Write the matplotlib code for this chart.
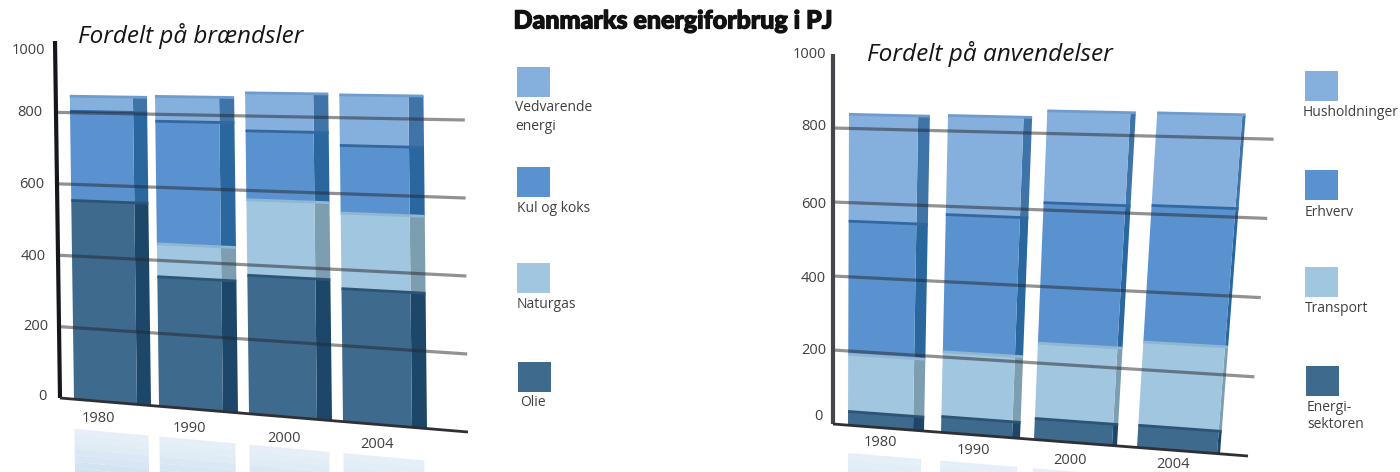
import matplotlib
matplotlib.use("Agg")
import matplotlib.pyplot as plt
import matplotlib.patheffects as pe
import numpy as np
from matplotlib.transforms import Transform
from matplotlib.patches import Rectangle

# ---------- data ----------
years = ["1980", "1990", "2000", "2004"]
ticks = [0, 200, 400, 600, 800, 1000]

fuel_names = ["Olie", "Naturgas", "Kul og koks", "Vedvarende\nenergi"]
olie = [555, 355, 372, 350]
naturgas = [0, 90, 203, 199]
kul = [249, 336, 185, 178]
vedvarende = [42, 68, 102, 133]

use_names = ["Energi-\nsektoren", "Transport", "Erhverv", "Husholdninger"]
energi = [37, 42, 55, 57]
transport = [154, 172, 197, 214]
erhverv = [359, 364, 367, 351]
husholdninger = [288, 263, 240, 238]

# ---------- styles and layout ----------
FACE = ["#3e6a8e", "#a0c6e0", "#5a92cf", "#85b0de"]
SIDE = ["#1c4769", "#7d9eb0", "#2a679f", "#3f74a8"]
EDGE = ["#2c5474", "#8fb6d2", "#33689f", "#6f9ccd"]
FONT = "Open Sans"
TXT = "#404040"


class Bilinear(Transform):
    """Maps (baseline position, value) onto the tilted chart plane."""
    input_dims = output_dims = 2
    is_separable = False

    def __init__(self, bl, br, tl, tr):
        super().__init__()
        self.c = [np.array(p, float) for p in (bl, br, tl, tr)]

    def transform_non_affine(self, values):
        values = np.asarray(values, float)
        bl, br, tl, tr = self.c
        u = ((values[:, 0] - bl[0]) / (br[0] - bl[0]))[:, None]
        v = (values[:, 1] / 1000.0)[:, None]
        return (1 - v) * ((1 - u) * bl + u * br) + v * ((1 - u) * tl + u * tr)


fig = plt.figure(figsize=(14, 4.72), dpi=100)
ax = fig.add_axes([0, 0, 1, 1])
ax.set_autoscale_on(False)
ax.set_xlim(0, 1400)
ax.set_ylim(472, 0)
ax.axis("off")


def chart(corners, lefts, fronts, sides, stacks, axis_color, refl_start):
    T = Bilinear(*corners) + ax.transData
    x0, x1 = corners[0][0], corners[1][0]
    lefts, fronts, sides = map(np.array, (lefts, fronts, sides))

    # soft reflection below the bars
    levels = np.linspace(refl_start, -230, 9)
    for k in range(8):
        ax.bar(lefts, levels[k + 1] - levels[k], fronts - lefts + (sides - fronts) * 0.8,
               bottom=levels[k], align="edge", color="#c9ddee",
               alpha=0.45 + 0.07 * k, lw=0, transform=T, zorder=1)

    bottom = np.zeros(4)
    for i, vals in enumerate(stacks):
        vals = np.array(vals, float)
        ax.bar(fronts, vals, sides - fronts, bottom=bottom, align="edge",
               color=SIDE[i], lw=0, transform=T, zorder=2)
        ax.bar(lefts, vals, fronts - lefts, bottom=bottom, align="edge",
               color=FACE[i], lw=0, transform=T, zorder=3)
        for j in range(4):
            if vals[j] > 0:
                ax.plot([lefts[j], sides[j]], [bottom[j] + vals[j]] * 2,
                        color=EDGE[i], lw=2.0, solid_capstyle="butt",
                        transform=T, zorder=4)
        bottom += vals

    for v in ticks[1:-1]:
        ax.plot([x0, x1], [v, v], color="#26262c", alpha=0.5, lw=2.3,
                solid_capstyle="butt", transform=T, zorder=5)
    ax.plot([x0, x0], [0, 1000], color=axis_color, lw=3.0,
            solid_capstyle="butt", transform=T, zorder=6)
    ax.plot([x0, x1], [0, 0], color="#2f2f35", lw=2.0,
            solid_capstyle="butt", transform=T, zorder=6)


chart(((60, 398), (468, 432), (55, 41), (464, 42)),
      [74, 159, 249, 343], [137, 223, 317, 412], [151, 238, 332, 427],
      [olie, naturgas, kul, vedvarende], "#14181c", -83)
chart(((833, 424), (1248, 456), (833, 54), (1280, 60)),
      [848, 941, 1034, 1137], [913, 1012, 1112, 1217], [924, 1020, 1117, 1220],
      [energi, transport, erhverv, husholdninger], "#44464a", -75)


def txt(x, y, s, size=10.5, ha="left", va="center", **kw):
    kw.setdefault("family", FONT)
    kw.setdefault("color", TXT)
    return ax.text(x, y, s, fontsize=size, ha=ha, va=va, zorder=8, **kw)


# tick labels
for v, x, y in zip(ticks, [47, 48, 46, 44, 42, 45], [397, 327, 256, 185, 113, 50]):
    txt(x, y, str(v), ha="right")
for v, x, y in zip(ticks, [823, 826, 826, 826, 826, 826], [417, 350, 279, 205, 127, 54]):
    txt(x, y, str(v), ha="right")
for s, x, y in zip(years, [98, 189, 284, 377], [419, 429, 438, 445]):
    txt(x, y, s, ha="center")
for s, x, y in zip(years, [880, 973, 1070, 1173], [443, 451, 460, 464]):
    txt(x, y, s, ha="center")

# titles
title = txt(673, 21, "Danmarks energiforbrug i PJ", size=18, ha="center", color="#111111",
            family="Lato", fontweight="black")
title.set_path_effects([pe.withStroke(linewidth=0.9, foreground="#111111")])
txt(78, 36, "Fordelt på brændsler", size=17.5, color="#151515", fontstyle="italic")
txt(867, 54, "Fordelt på anvendelser", size=17.6, color="#151515", fontstyle="italic")

# legends
for i, (name, sx, sy, tx, ty) in enumerate(zip(
        fuel_names, [518, 517, 517, 517], [362, 263, 167, 67],
        [520, 517, 517, 515], [402, 304, 208, 117])):
    ax.add_patch(Rectangle((sx, sy), 33, 30, color=FACE[i], lw=0, zorder=7))
    txt(tx, ty, name, size=10, linespacing=1.35)
for i, (name, sx, sy, tx, ty) in enumerate(zip(
        use_names, [1306, 1305, 1305, 1305], [366, 267, 170, 71],
        [1307, 1305, 1305, 1303], [416, 309, 212, 112])):
    ax.add_patch(Rectangle((sx, sy), 33, 30, color=FACE[i], lw=0, zorder=7))
    txt(tx, ty, name, size=10, linespacing=1.2)

fig.savefig("out.png", dpi=100)
